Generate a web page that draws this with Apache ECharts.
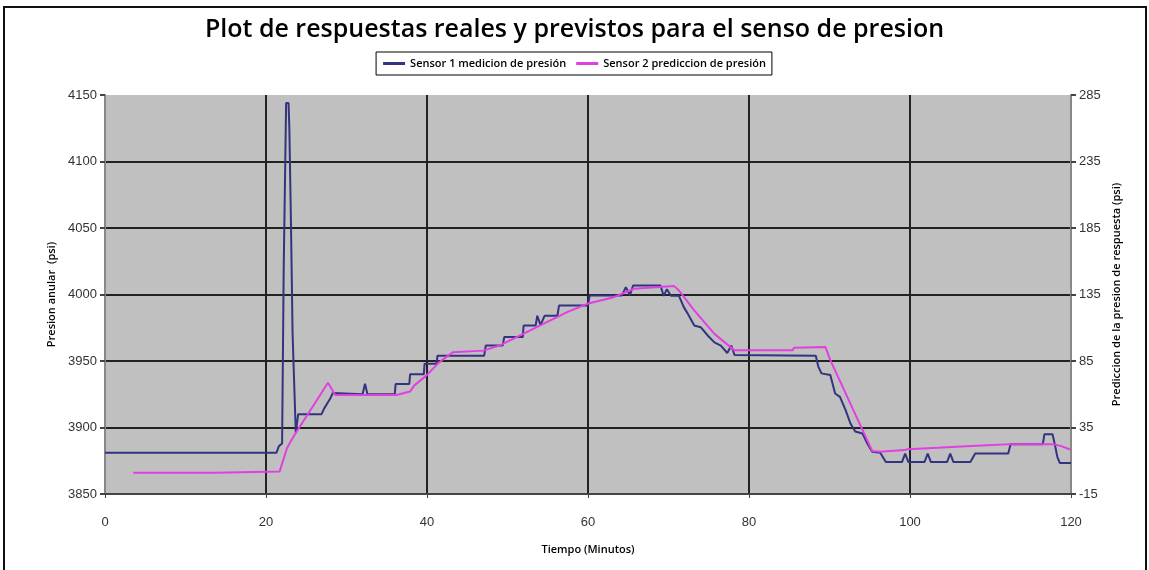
<!doctype html>
<html>
<head>
<meta charset="UTF-8">
<title>Plot de respuestas reales y previstos</title>
<script src="https://cdn.jsdelivr.net/npm/echarts@6/dist/echarts.min.js"></script>
<style>
	html, body { margin: 0; padding: 0; background: #fff; }
	#chart { width: 1149px; height: 570px; }
</style>
</head>
<body>
<div id="chart"></div>
<script>
// eje X: tiempo en minutos
var xTicks = [0, 20, 40, 60, 80, 100, 120];
var leftTicks = [3850, 3900, 3950, 4000, 4050, 4100, 4150];
var rightTicks = [-15, 35, 85, 135, 185, 235, 285];

// Sensor 1 - medicion (eje izquierdo, psi)
var sensor1Time = [0, 21.3, 21.6, 22.0, 22.2, 22.5, 22.8, 22.9, 23.1, 23.3, 23.7, 24.0, 26.9, 27.2, 27.6, 28.0, 28.3,
	32.0, 32.3, 32.6, 36.0, 36.1, 37.8, 37.9, 39.6, 39.7, 41.2, 41.3, 47.1, 47.3, 49.4, 49.6, 51.9, 52.0,
	53.5, 53.7, 54.1, 54.6, 56.2, 56.4, 60.0, 60.2, 64.2, 64.7, 65.2, 65.6, 69.0, 69.4, 69.8, 70.3, 71.3,
	71.9, 72.4, 73.2, 74.0, 74.9, 75.7, 76.5, 77.3, 77.8, 78.2, 88.3, 88.6, 89.0, 90.1, 90.7, 91.3, 92.0,
	92.6, 93.2, 94.1, 94.7, 95.3, 96.3, 97.0, 99.0, 99.4, 99.8, 101.8, 102.2, 102.6, 104.6, 105.0, 105.4,
	107.5, 108.1, 112.2, 112.5, 116.5, 116.7, 117.7, 118.0, 118.3, 118.6, 120];
var sensor1Value = [3881, 3881, 3886, 3888, 4020, 4144, 4144, 4125, 4054, 3971, 3896, 3910, 3910, 3914, 3918, 3922, 3926,
	3925, 3933, 3925, 3925, 3932.7, 3932.7, 3940, 3940, 3948, 3948, 3954, 3954, 3961.6, 3961.6, 3968, 3968, 3976.7,
	3976.7, 3984, 3977, 3984, 3984, 3991.7, 3991.7, 3999.2, 3999.2, 4005.5, 3999.5, 4006.8, 4006.8, 3999, 4004, 3999, 3999,
	3990.5, 3985.5, 3976.7, 3975.4, 3969, 3964, 3961.6, 3956, 3961.6, 3954.5, 3954, 3946, 3940.7, 3939.4, 3925.6, 3923, 3913,
	3903, 3897, 3895.5, 3888, 3881.7, 3881, 3874, 3874, 3880.4, 3874, 3874, 3880.4, 3874, 3874, 3880.4, 3874,
	3874, 3880.4, 3880.4, 3887.5, 3887.5, 3895, 3895, 3887, 3878, 3873.4, 3873.4];

// Sensor 2 - prediccion (eje derecho, psi)
var sensor2Time = [3.5, 13.7, 13.8, 21.7, 22.6, 23.4, 27.7, 28.6, 36.2, 37.9, 38.4, 39.9, 41.5, 43.2, 47.0, 49.0,
	53.2, 57.4, 59.9, 63.2, 65.7, 70.7, 71.3, 73.2, 75.7, 78.2, 85.4, 85.6, 89.5, 90.1, 95.3, 96.3, 99.3,
	99.7, 103.4, 107.6, 112.6, 117.8, 118.8, 119.9];
var sensor2Value = [1, 1, 2, 2, 19.4, 28, 68.7, 59.4, 59.4, 62, 66.5, 74, 84, 91.6, 92.8, 96.6,
	109.2, 121.7, 128, 133, 139.3, 141.3, 138, 123, 105.4, 93, 93, 95, 95.5, 85.7, 17.4, 16.7, 18,
	18.7, 19.7, 21, 22.5, 22.5, 21, 18.5];

var legendNames = ['Sensor 1 medicion de presión', 'Sensor 2 prediccion de presión'];

function zip(a, b) {
	var out = [];
	for (var i = 0; i < a.length; i++) out.push([a[i], b[i]]);
	return out;
}

var labelFont = "'Liberation Sans Narrow', 'Liberation Sans', sans-serif";
var nameFont = "'Open Sans', sans-serif";

var chart = echarts.init(document.getElementById('chart'));
chart.setOption({
	animation: false,
	backgroundColor: '#fff',
	graphic: [{
		type: 'rect',
		shape: { x: 4, y: 7, width: 1142, height: 580 },
		style: { fill: 'none', stroke: '#111', lineWidth: 2 },
		silent: true
	}],
	title: {
		text: 'Plot de respuestas reales y previstos para el senso de presion',
		left: 'center',
		top: 12,
		textStyle: { fontFamily: nameFont, fontSize: 25, fontWeight: 600, color: '#000' }
	},
	legend: {
		data: legendNames,
		left: 'center',
		top: 52,
		borderColor: '#000',
		borderWidth: 1,
		padding: [6, 6, 6, 7],
		itemGap: 10,
		itemWidth: 22,
		itemHeight: 3,
		icon: 'rect',
		textStyle: { fontFamily: nameFont, fontSize: 11, fontWeight: 600, color: '#000' }
	},
	grid: {
		left: 105, right: 78, top: 95, bottom: 76,
		show: true,
		backgroundColor: '#c0c0c0',
		borderWidth: 0
	},
	xAxis: {
		type: 'value',
		min: xTicks[0],
		max: xTicks[xTicks.length - 1],
		interval: 20,
		name: 'Tiempo (Minutos)',
		nameLocation: 'middle',
		nameGap: 50,
		nameTextStyle: { fontFamily: nameFont, fontSize: 11, fontWeight: 600, color: '#000' },
		axisLine: { show: true, onZero: false, lineStyle: { color: '#444', width: 2 } },
		axisTick: { show: true, length: 4, lineStyle: { color: '#444' } },
		axisLabel: { fontFamily: labelFont, fontSize: 13, color: '#333', margin: 22 },
		splitLine: { show: true, showMinLine: false, showMaxLine: false, lineStyle: { color: '#222', width: 2 } }
	},
	yAxis: [{
		type: 'value',
		position: 'left',
		min: leftTicks[0],
		max: leftTicks[leftTicks.length - 1],
		interval: 50,
		name: 'Presion anular  (psi)',
		nameLocation: 'middle',
		nameGap: 35,
		nameTextStyle: { fontFamily: nameFont, fontSize: 11, fontWeight: 600, color: '#000' },
		axisLine: { show: true, lineStyle: { color: '#888', width: 2 } },
		axisTick: { show: true, length: 5, lineStyle: { color: '#444', width: 2 } },
		axisLabel: {
			fontFamily: labelFont, fontSize: 13, color: '#333', margin: 8,
			formatter: function (v) { return String(v); }
		},
		splitLine: { show: true, showMinLine: false, showMaxLine: false, lineStyle: { color: '#222', width: 2 } }
	}, {
		type: 'value',
		position: 'right',
		min: rightTicks[0],
		max: rightTicks[rightTicks.length - 1],
		interval: 50,
		name: 'Prediccion de la presion de respuesta (psi)',
		nameLocation: 'middle',
		nameGap: 35,
		nameTextStyle: { fontFamily: nameFont, fontSize: 11, fontWeight: 600, color: '#000' },
		axisLine: { show: true, lineStyle: { color: '#888', width: 2 } },
		axisTick: { show: true, length: 5, lineStyle: { color: '#444', width: 2 } },
		axisLabel: {
			fontFamily: labelFont, fontSize: 13, color: '#333', margin: 8,
			formatter: function (v) { return String(v); }
		},
		splitLine: { show: false }
	}],
	series: [{
		name: legendNames[0],
		type: 'line',
		yAxisIndex: 0,
		showSymbol: false,
		data: zip(sensor1Time, sensor1Value),
		itemStyle: { color: '#33337f' },
		lineStyle: { color: '#33337f', width: 2 }
	}, {
		name: legendNames[1],
		type: 'line',
		yAxisIndex: 1,
		showSymbol: false,
		data: zip(sensor2Time, sensor2Value),
		itemStyle: { color: '#e23fe2' },
		lineStyle: { color: '#e23fe2', width: 2 }
	}]
});
</script>
</body>
</html>
